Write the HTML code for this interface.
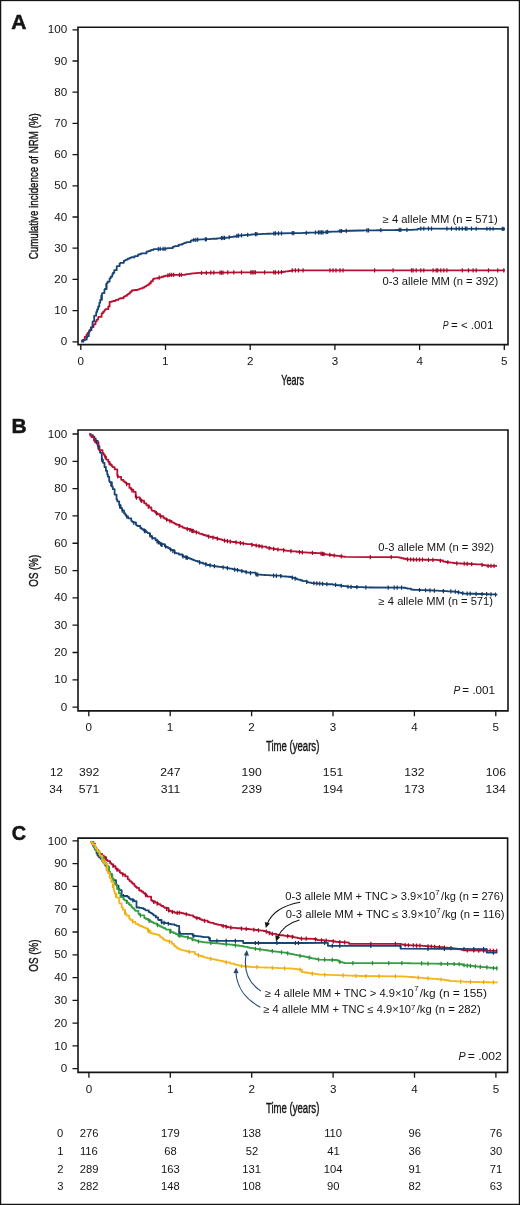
<!DOCTYPE html><html><head><meta charset="utf-8"><style>html,body{margin:0;padding:0;background:#fff;}svg{display:block;will-change:transform;}text{font-family:"Liberation Sans", sans-serif;}</style></head><body>
<svg width="520" height="1205" viewBox="0 0 520 1205">
<rect x="0" y="0" width="520" height="1205" fill="#fff"/>
<rect x="0.6" y="0.5" width="518.8" height="1203.9" fill="none" stroke="#141414" stroke-width="1.3"/>
<text x="11.28" y="28.80" font-size="21" font-weight="bold" fill="#141414" stroke="#141414" stroke-width="0.5" paint-order="stroke" textLength="15.17" lengthAdjust="spacingAndGlyphs">A</text>
<path d="M78,27.2H508V344.6H78Z" fill="none" stroke="#141414" stroke-width="1.6"/>
<text x="60.68" y="345.40" font-size="10.3" fill="#141414" textLength="6.47" lengthAdjust="spacingAndGlyphs">0</text>
<text x="54.22" y="314.20" font-size="10.3" fill="#141414" textLength="12.95" lengthAdjust="spacingAndGlyphs">10</text>
<text x="54.22" y="283.00" font-size="10.3" fill="#141414" textLength="12.95" lengthAdjust="spacingAndGlyphs">20</text>
<text x="54.22" y="251.80" font-size="10.3" fill="#141414" textLength="12.95" lengthAdjust="spacingAndGlyphs">30</text>
<text x="54.22" y="220.60" font-size="10.3" fill="#141414" textLength="12.95" lengthAdjust="spacingAndGlyphs">40</text>
<text x="54.22" y="189.40" font-size="10.3" fill="#141414" textLength="12.95" lengthAdjust="spacingAndGlyphs">50</text>
<text x="54.22" y="158.20" font-size="10.3" fill="#141414" textLength="12.95" lengthAdjust="spacingAndGlyphs">60</text>
<text x="54.22" y="127.00" font-size="10.3" fill="#141414" textLength="12.95" lengthAdjust="spacingAndGlyphs">70</text>
<text x="54.22" y="95.80" font-size="10.3" fill="#141414" textLength="12.95" lengthAdjust="spacingAndGlyphs">80</text>
<text x="54.22" y="64.60" font-size="10.3" fill="#141414" textLength="12.95" lengthAdjust="spacingAndGlyphs">90</text>
<text x="47.73" y="33.40" font-size="10.3" fill="#141414" textLength="19.42" lengthAdjust="spacingAndGlyphs">100</text>
<path d="M72.50,341.80H78M72.50,310.60H78M72.50,279.40H78M72.50,248.20H78M72.50,217.00H78M72.50,185.80H78M72.50,154.60H78M72.50,123.40H78M72.50,92.20H78M72.50,61.00H78M72.50,29.80H78" stroke="#141414" stroke-width="1.3"/>
<text x="77.56" y="364.80" font-size="10.3" fill="#141414" textLength="6.47" lengthAdjust="spacingAndGlyphs">0</text>
<text x="162.11" y="364.80" font-size="10.3" fill="#141414" textLength="6.47" lengthAdjust="spacingAndGlyphs">1</text>
<text x="246.97" y="364.80" font-size="10.3" fill="#141414" textLength="6.47" lengthAdjust="spacingAndGlyphs">2</text>
<text x="331.70" y="364.80" font-size="10.3" fill="#141414" textLength="6.47" lengthAdjust="spacingAndGlyphs">3</text>
<text x="416.40" y="364.80" font-size="10.3" fill="#141414" textLength="6.47" lengthAdjust="spacingAndGlyphs">4</text>
<text x="501.07" y="364.80" font-size="10.3" fill="#141414" textLength="6.47" lengthAdjust="spacingAndGlyphs">5</text>
<path d="M80.80,344.6V349.90M165.50,344.6V349.90M250.20,344.6V349.90M334.90,344.6V349.90M419.60,344.6V349.90M504.30,344.6V349.90" stroke="#141414" stroke-width="1.3"/>
<text transform="translate(38.30,259.29) rotate(-90)" x="0" y="0" font-size="13.5" fill="#141414" stroke="#141414" stroke-width="0.4" paint-order="stroke" textLength="146.07" lengthAdjust="spacingAndGlyphs">Cumulative incidence of NRM (%)</text>
<text x="281.30" y="385.00" font-size="14.2" fill="#141414" stroke="#141414" stroke-width="0.4" paint-order="stroke" textLength="22.83" lengthAdjust="spacingAndGlyphs">Years</text>
<path d="M81.40,341.50H81.90V340.79H82.47V339.98H84.70V336.80H86.46V334.59H87.40V333.40H87.70V332.97H88.90V331.21H89.60V330.18H91.50V327.40H91.65V327.17H91.73V327.05H93.53V324.30H95.50V321.30H96.67V319.57H98.20V317.30H98.44V317.02H98.51V316.94H101.60V313.30H103.00V311.86H104.33V310.49H104.90V309.90H105.32V309.48H105.66V309.14H108.30V306.50H109.60V301.80H111.73V301.36H112.82V301.14H113.00V301.10H113.25V301.01H115.14V300.31H116.12V299.95H118.27V299.15H118.40V299.10H119.11V298.78H119.27V298.71H120.14V298.32H120.25V298.27H123.55V296.78H124.40V296.40H125.14V295.91H126.78V294.83H127.75V294.20H128.50V293.70H129.73V292.47H130.61V291.59H131.80V290.40H132.12V290.36H132.14V290.36H132.91V290.26H134.76V290.02H137.20V289.70H138.90V289.07H139.51V288.84H140.36V288.53H140.87V288.34H142.60V287.70H144.22V286.80H145.05V286.34H146.37V285.60H146.89V285.32H148.00V284.70H149.34V283.24H150.89V281.55H151.16V281.25H152.81V279.45H153.50V278.70H154.17V278.58H155.14V278.41H157.66V277.97H159.09V277.72H159.20V277.70H160.08V277.41H161.63V276.91H162.04V276.77H163.59V276.26H165.00V275.80H165.23V275.76H168.32V275.23H168.88V275.13H169.43V275.04H170.80V274.80L182.30,274.80H185.31V274.39H186.68V274.21H187.87V274.05H188.01V274.03H188.97V273.90H190.36V273.71H190.70V273.66H191.37V273.57H191.90V273.50H192.25V273.46H194.65V273.22H195.75V273.10H195.97V273.08H197.70V272.90L240.00,272.30L280.00,272.30H280.28V272.26H280.73V272.19H281.44V272.08H282.07V271.98H283.50V271.76H284.75V271.57H285.68V271.42H287.96V271.07H288.22V271.03H290.11V270.74H292.22V270.41H292.30V270.40L505.00,270.40" fill="none" stroke="#ba1033" stroke-width="1.8" stroke-linejoin="round" stroke-linecap="butt"/>
<path d="M81.40,341.50H83.47V340.27H84.10V339.90H84.44V339.59H86.70V337.50H87.22V336.16H88.80V332.10H89.58V330.26H90.80V327.40H92.54V322.08H92.80V321.30H94.20V316.00H94.36V315.67H96.20V311.90H97.10V309.47H98.20V306.50H99.30V302.82H100.20V299.80H101.97V293.88H102.20V293.10H104.41V289.74H104.90V289.00H106.63V283.82H106.90V283.00H107.65V281.69H109.60V278.30H110.72V276.60H112.30V274.20H113.02V272.76H114.30V270.20H116.69V266.66H117.00V266.20H119.59V263.61H119.70V263.50H120.32V263.09H120.42V263.02H120.65V262.87H123.80V260.80H124.73V260.31H125.74V259.78H126.16V259.56H127.80V258.70H127.83V258.69H129.56V258.02H130.27V257.74H130.61V257.61H131.59V257.23H134.50V256.10H138.01V254.71H138.70V254.43H139.10V254.27H139.20V254.24H140.98V253.53H141.30V253.40H141.66V253.29H146.53V251.76H146.65V251.72H147.16V251.56H147.33V251.51H148.00V251.30H148.57V251.08H150.16V250.48H150.19V250.46H151.49V249.97H153.50V249.20L165.00,248.80H165.40V248.70H165.48V248.68H165.52V248.67H166.25V248.49H166.61V248.40H167.62V248.15H172.70V246.90H172.70V246.90H173.29V246.71H173.58V246.61H174.81V246.21H178.50V245.00H178.65V244.95H179.35V244.72H182.00V243.83H183.48V243.34H184.20V243.10H185.15V242.74H186.14V242.37H186.87V242.09H187.00V242.04H190.74V240.64H191.85V240.22H191.90V240.20L197.70,239.60L207.30,239.20H207.57V239.18H208.29V239.12H208.48V239.11H209.16V239.05H210.34V238.96H211.24V238.89H212.66V238.78H212.86V238.76H216.83V238.45H218.24V238.34H218.80V238.30H219.01V238.28H219.93V238.21H222.87V237.98H222.87V237.98H222.98V237.97H226.33V237.71H226.50V237.70H228.76V237.32H229.51V237.19H230.03V237.10H230.95V236.94H231.45V236.86H233.69V236.48H235.90V236.10H236.92V235.92H237.02V235.91H237.46V235.83H238.15V235.71H239.80V235.43H240.00V235.40H240.43V235.37H240.45V235.37H243.49V235.13H243.99V235.09H244.30V235.06H245.48V234.97H246.89V234.86H247.97V234.78H250.66V234.57H251.39V234.51H252.41V234.43H252.60V234.42H253.13V234.38H254.73V234.25H255.40V234.20H256.96V234.14H259.02V234.06H259.16V234.06H259.46V234.05H259.57V234.04H262.11V233.94H264.22V233.86H266.88V233.76H267.41V233.74H267.55V233.74H270.11V233.64H270.86V233.61H271.97V233.57H272.14V233.56H272.64V233.54H272.97V233.53H273.58V233.51H273.80V233.50L292.30,233.20H292.74V233.19H296.20V233.09H296.32V233.08H296.79V233.07H296.94V233.06H297.52V233.05H297.78V233.04H302.51V232.90H303.06V232.88H304.45V232.84H304.62V232.84H306.98V232.77H308.47V232.73H309.14V232.71H312.25V232.62H312.48V232.61H314.55V232.55H315.33V232.52H316.32V232.50H316.53V232.49H316.89V232.48H317.06V232.47H317.67V232.46H320.08V232.39H320.96V232.36H321.37V232.35H322.11V232.33H322.13V232.33H322.40V232.32H323.00V232.30H325.42V232.13H326.90V232.03H327.45V231.99H327.66V231.97H327.80V231.96H328.42V231.92H329.55V231.84H330.75V231.76H330.78V231.75H331.03V231.74H331.48V231.70H333.79V231.54H333.85V231.54H338.28V231.23H339.13V231.17H339.73V231.12H339.84V231.12H341.50V231.00L360.00,230.50H360.20V230.50H360.96V230.49H363.74V230.45H363.77V230.45H365.46V230.43H366.26V230.41H367.06V230.40H368.88V230.38H369.43V230.37H372.39V230.33H372.80V230.33H373.37V230.32H374.26V230.31H376.79V230.27H382.67V230.19H382.77V230.19H382.83V230.19H383.30V230.18H384.38V230.17H384.62V230.17H385.83V230.15H386.04V230.15H386.15V230.14H386.38V230.14H386.69V230.14H386.96V230.13H387.39V230.13H387.46V230.13H388.61V230.11H388.66V230.11H388.81V230.11H388.86V230.11H388.93V230.11H391.55V230.07H394.48V230.03H395.68V230.02H396.01V230.01H397.35V229.99H399.14V229.97H399.77V229.96H400.37V229.95H400.39V229.95H401.16V229.94H403.26V229.91H405.14V229.89H406.99V229.86H407.26V229.86H408.49V229.84H408.52V229.84H408.58V229.84H411.50V229.80H412.83V229.63H412.94V229.61H413.54V229.54H417.64V229.01H418.16V228.94H419.71V228.74H419.84V228.72H420.50V228.64H420.80V228.60L505.00,228.80" fill="none" stroke="#184577" stroke-width="1.8" stroke-linejoin="round" stroke-linecap="butt"/>
<path d="M159.20,275.60V279.80M167.90,273.20V277.40M169.80,272.87V277.07M171.70,272.70V276.90M173.70,272.70V276.90M179.40,272.70V276.90M181.30,272.70V276.90M201.50,270.75V274.95M206.30,270.68V274.88M210.80,270.61V274.81M213.80,270.57V274.77M220.00,270.48V274.68M221.50,270.46V274.66M223.00,270.44V274.64M227.70,270.37V274.57M233.80,270.29V274.49M241.50,270.20V274.40M250.80,270.20V274.40M252.30,270.20V274.40M253.80,270.20V274.40M255.40,270.20V274.40M264.60,270.20V274.40M273.80,270.20V274.40M275.40,270.20V274.40M278.50,270.20V274.40M281.50,269.97V274.17M292.30,268.30V272.50M295.40,268.30V272.50M298.50,268.30V272.50M303.10,268.30V272.50M330.00,268.30V272.50M333.00,268.30V272.50M336.00,268.30V272.50M340.00,268.30V272.50M343.00,268.30V272.50M374.60,268.30V272.50M393.10,268.30V272.50M411.50,268.30V272.50M413.10,268.30V272.50M416.20,268.30V272.50M420.80,268.30V272.50M423.80,268.30V272.50M433.10,268.30V272.50M436.20,268.30V272.50M437.70,268.30V272.50M440.80,268.30V272.50M443.80,268.30V272.50M446.90,268.30V272.50M462.30,268.30V272.50M468.50,268.30V272.50M473.10,268.30V272.50M476.20,268.30V272.50M488.50,268.30V272.50M497.70,268.30V272.50M503.80,268.30V272.50" stroke="#9c0c2a" stroke-width="1.2" fill="none"/>
<path d="M101.00,295.02V299.22M106.00,283.60V287.80M158.30,246.93V251.13M160.20,246.87V251.07M163.10,246.77V250.97M165.00,246.70V250.90M193.80,237.90V242.10M195.80,237.70V241.90M197.70,237.50V241.70M205.40,237.18V241.38M206.30,237.14V241.34M221.50,235.99V240.19M223.00,235.87V240.07M224.60,235.75V239.95M229.20,235.14V239.34M236.90,233.83V238.03M238.50,233.56V237.76M241.50,233.18V237.38M247.70,232.70V236.90M255.40,232.10V236.30M256.90,232.04V236.24M273.80,231.40V235.60M275.40,231.37V235.57M278.50,231.32V235.52M281.50,231.28V235.48M292.30,231.10V235.30M293.80,231.06V235.26M306.20,230.69V234.89M315.40,230.42V234.62M318.50,230.33V234.53M320.00,230.29V234.49M321.50,230.24V234.44M323.00,230.20V234.40M326.20,229.98V234.18M327.70,229.87V234.07M340.00,229.01V233.21M341.50,228.90V233.10M346.20,228.77V232.97M366.90,228.31V232.51M368.50,228.28V232.48M380.80,228.12V232.32M399.20,227.87V232.07M400.80,227.85V232.05M406.90,227.76V231.96M420.80,226.50V230.70M423.80,226.51V230.71M428.50,226.52V230.72M431.50,226.53V230.73M446.90,226.56V230.76M451.50,226.57V230.77M456.20,226.58V230.78M459.20,226.59V230.79M462.30,226.60V230.80M465.40,226.61V230.81M466.90,226.61V230.81M471.50,226.62V230.82M476.20,226.63V230.83M486.90,226.66V230.86M490.00,226.66V230.86M493.10,226.67V230.87M502.30,226.69V230.89M503.80,226.70V230.90" stroke="#123866" stroke-width="1.2" fill="none"/>
<text x="382.74" y="222.60" font-size="10.6" fill="#141414" textLength="114.94" lengthAdjust="spacingAndGlyphs">≥ 4 allele MM (n = 571)</text>
<text x="382.55" y="285.00" font-size="10.6" fill="#141414" textLength="115.63" lengthAdjust="spacingAndGlyphs">0-3 allele MM (n = 392)</text>
<text x="442.84" y="328.80" font-size="11.2" font-style="italic" fill="#141414" textLength="5.82" lengthAdjust="spacingAndGlyphs">P</text>
<text x="450.95" y="328.80" font-size="11.2" fill="#141414" textLength="42.40" lengthAdjust="spacingAndGlyphs">= &lt; .001</text>
<text x="11.58" y="432.80" font-size="21" font-weight="bold" fill="#141414" stroke="#141414" stroke-width="0.5" paint-order="stroke" textLength="15.17" lengthAdjust="spacingAndGlyphs">B</text>
<path d="M78,430H508V710.9H78Z" fill="none" stroke="#141414" stroke-width="1.6"/>
<text x="60.68" y="710.70" font-size="10.3" fill="#141414" textLength="6.47" lengthAdjust="spacingAndGlyphs">0</text>
<text x="54.22" y="683.39" font-size="10.3" fill="#141414" textLength="12.95" lengthAdjust="spacingAndGlyphs">10</text>
<text x="54.22" y="656.08" font-size="10.3" fill="#141414" textLength="12.95" lengthAdjust="spacingAndGlyphs">20</text>
<text x="54.22" y="628.77" font-size="10.3" fill="#141414" textLength="12.95" lengthAdjust="spacingAndGlyphs">30</text>
<text x="54.22" y="601.46" font-size="10.3" fill="#141414" textLength="12.95" lengthAdjust="spacingAndGlyphs">40</text>
<text x="54.22" y="574.15" font-size="10.3" fill="#141414" textLength="12.95" lengthAdjust="spacingAndGlyphs">50</text>
<text x="54.22" y="546.84" font-size="10.3" fill="#141414" textLength="12.95" lengthAdjust="spacingAndGlyphs">60</text>
<text x="54.22" y="519.53" font-size="10.3" fill="#141414" textLength="12.95" lengthAdjust="spacingAndGlyphs">70</text>
<text x="54.22" y="492.22" font-size="10.3" fill="#141414" textLength="12.95" lengthAdjust="spacingAndGlyphs">80</text>
<text x="54.22" y="464.91" font-size="10.3" fill="#141414" textLength="12.95" lengthAdjust="spacingAndGlyphs">90</text>
<text x="47.73" y="437.60" font-size="10.3" fill="#141414" textLength="19.42" lengthAdjust="spacingAndGlyphs">100</text>
<path d="M72.50,707.10H78M72.50,679.79H78M72.50,652.48H78M72.50,625.17H78M72.50,597.86H78M72.50,570.55H78M72.50,543.24H78M72.50,515.93H78M72.50,488.62H78M72.50,461.31H78M72.50,434.00H78" stroke="#141414" stroke-width="1.3"/>
<text x="85.56" y="730.80" font-size="10.3" fill="#141414" textLength="6.47" lengthAdjust="spacingAndGlyphs">0</text>
<text x="166.81" y="730.80" font-size="10.3" fill="#141414" textLength="6.47" lengthAdjust="spacingAndGlyphs">1</text>
<text x="248.37" y="730.80" font-size="10.3" fill="#141414" textLength="6.47" lengthAdjust="spacingAndGlyphs">2</text>
<text x="329.80" y="730.80" font-size="10.3" fill="#141414" textLength="6.47" lengthAdjust="spacingAndGlyphs">3</text>
<text x="411.20" y="730.80" font-size="10.3" fill="#141414" textLength="6.47" lengthAdjust="spacingAndGlyphs">4</text>
<text x="492.57" y="730.80" font-size="10.3" fill="#141414" textLength="6.47" lengthAdjust="spacingAndGlyphs">5</text>
<path d="M88.80,710.9V716.20M170.20,710.9V716.20M251.60,710.9V716.20M333.00,710.9V716.20M414.40,710.9V716.20M495.80,710.9V716.20" stroke="#141414" stroke-width="1.3"/>
<text transform="translate(38.30,586.66) rotate(-90)" x="0" y="0" font-size="13.5" fill="#141414" stroke="#141414" stroke-width="0.4" paint-order="stroke" textLength="31.85" lengthAdjust="spacingAndGlyphs">OS (%)</text>
<text x="265.88" y="751.20" font-size="14" fill="#141414" stroke="#141414" stroke-width="0.4" paint-order="stroke" textLength="53.49" lengthAdjust="spacingAndGlyphs">Time (years)</text>
<path d="M89.20,434.20H90.75V435.20H92.91V436.58H93.10V436.70H94.42V438.70H95.80V440.80H97.78V446.15H97.80V446.20H99.46V450.61H99.80V451.50H100.12V452.81H101.80V459.60H102.97V462.79H104.50V467.00H105.89V470.82H107.20V474.40H107.88V476.67H109.20V481.10H109.73V482.16H111.90V486.50H112.76V489.08H114.60V494.60H116.55V499.44H117.30V501.30H117.37V501.43H119.18V505.07H120.70V508.10H120.76V508.20H122.15V510.43H124.00V513.40H125.36V514.99H126.10V515.86H126.56V516.39H128.10V518.20H128.36V518.41H131.25V520.80H132.04V521.45H132.10V521.50H132.52V521.86H133.16V522.40H135.99V524.80H136.10V524.90H136.31V525.06H136.80V525.42H137.56V525.98H140.31V528.02H141.50V528.90H142.90V529.78H143.78V530.34H145.92V531.68H146.42V532.00H146.90V532.30H147.71V533.11H149.98V535.38H150.68V536.08H151.86V537.26H152.30V537.70H152.74V538.05H152.86V538.14H152.99V538.24H155.57V540.27H157.60V541.86H159.53V543.38H160.00V543.75H160.50V544.00H160.63V544.06H164.76V546.13H166.01V546.76H166.42V546.96H166.47V546.99H167.50V547.50H168.47V548.15H169.51V548.84H170.04V549.20H170.90V549.77H171.65V550.27H174.45V552.13H175.00V552.50H175.38V552.69H175.82V552.91H176.21V553.11H176.51V553.26H176.79V553.39H178.95V554.48H182.50V556.25H183.83V556.69H184.67V556.97H184.79V557.01H184.84V557.03H186.25V557.50H188.20V558.15H190.00V558.75H190.15V558.81H190.18V558.82H191.89V559.46H192.50V559.69H193.47V560.05H194.75V560.53H195.51V560.82H197.33V561.50H199.35V562.25H200.00V562.50H200.80V562.77H202.95V563.48H203.24V563.58H203.71V563.74H206.14V564.55H206.26V564.59H207.50V565.00H210.07V565.43H211.30V565.63H212.66V565.86H212.80V565.88H213.74V566.04H214.87V566.23H215.00V566.25H215.57V566.33H215.74V566.35H216.35V566.44H216.70V566.49H217.66V566.62H218.61V566.75H219.21V566.84H221.61V567.17H222.71V567.32H225.40V567.70H226.70V567.96H227.83V568.19H229.13V568.45H229.45V568.52H229.74V568.57H229.91V568.61H232.27V569.08H232.48V569.12H233.82V569.40H235.73V569.78H238.36V570.31H238.81V570.40H240.21V570.68H240.38V570.72H240.80V570.80H240.82V570.80H240.88V570.82H242.18V571.13H243.90V571.54H244.56V571.70H244.87V571.78H245.57V571.95H246.29V572.12H246.68V572.21H246.95V572.28H248.11V572.56H248.54V572.66H248.57V572.67H255.67V574.37H256.20V574.50H256.54V574.52H256.84V574.54H258.49V574.63H259.76V574.71H260.85V574.77H261.19V574.79H262.16V574.85H264.30V574.98H265.16V575.03H266.26V575.09H267.15V575.14H267.68V575.18H269.65V575.29H271.27V575.39H271.50V575.40H272.31V575.47H274.08V575.61H280.83V576.16H281.19V576.19H282.31V576.28H283.11V576.34H283.40V576.36H284.13V576.42H284.90V576.49H285.08V576.50H286.39V576.61H286.53V576.62H286.79V576.64H286.95V576.65H286.95V576.65H288.00V576.74H288.02V576.74H290.00V576.90H290.38V577.02H291.29V577.32H291.64V577.43H292.83V577.82H294.44V578.34H296.87V579.13H297.70V579.40H297.72V579.41H298.37V579.62H298.53V579.67H300.28V580.24H302.30V580.90H302.33V580.91H302.91V581.05H306.80V581.98H306.93V582.01H307.22V582.08H308.37V582.35H309.18V582.55H309.64V582.65H311.50V583.10H313.11V583.21H313.17V583.22H314.68V583.32H315.93V583.41H316.95V583.48H316.99V583.48H317.24V583.50H318.08V583.56H319.76V583.67H321.85V583.82H322.17V583.84H324.83V584.03H325.38V584.06H326.27V584.13H327.25V584.19H327.41V584.21H327.48V584.21H327.55V584.21H328.07V584.25H332.58V584.56H333.10V584.60H333.29V584.63H334.03V584.73H334.92V584.86H336.17V585.04H337.24V585.19H337.58V585.24H340.26V585.62H340.28V585.63H341.05V585.74H341.84V585.85H343.45V586.08H343.51V586.09H343.76V586.12H346.86V586.57H348.50V586.80H348.88V586.81H351.35V586.89H351.55V586.90H353.01V586.95H353.03V586.95H354.28V586.99H358.16V587.11H358.37V587.12H359.44V587.16H359.77V587.17H361.00V587.21H363.62V587.29H366.13V587.37H366.13V587.37H367.57V587.42H368.63V587.46H368.83V587.46H368.98V587.47H369.31V587.48H369.53V587.48H370.00V587.50L403.30,587.70H403.33V587.71H403.51V587.75H405.29V588.16H407.18V588.60H407.48V588.67H407.53V588.68H411.02V589.50H411.90V589.70H411.94V589.70H413.01V589.74H414.25V589.79H414.67V589.81H415.15V589.83H418.26V589.95H418.60V589.96H418.88V589.97H419.20V589.98H419.85V590.01H420.23V590.02H420.50V590.03H420.98V590.05H421.79V590.09H425.51V590.23H428.37V590.34H429.24V590.38H431.28V590.46H431.31V590.46H432.73V590.51H433.30V590.53H434.97V590.60H435.00V590.60H436.00V590.65H438.83V590.81H440.04V590.87H440.37V590.89H440.77V590.91H442.54V591.01H444.11V591.10H445.32V591.16H446.09V591.20H447.74V591.29H449.54V591.39H449.79V591.41H451.40V591.49H451.86V591.52H452.86V591.57H453.45V591.60H453.90V591.63H454.00V591.63H454.31V591.65H455.20V591.70H455.62V591.79H456.29V591.93H457.66V592.22H459.26V592.55H460.74V592.86H461.67V593.05H463.17V593.37H463.80V593.50L481.10,594.00H483.67V594.10H483.76V594.10H484.41V594.12H485.24V594.16H485.83V594.18H485.88V594.18H486.56V594.21H487.37V594.24H489.00V594.30H489.96V594.33H491.53V594.39H492.85V594.44H495.50V594.54H496.62V594.59H497.00V594.60" fill="none" stroke="#184577" stroke-width="1.8" stroke-linejoin="round" stroke-linecap="butt"/>
<path d="M89.20,434.20H90.34V435.65H91.54V437.17H93.91V440.18H94.38V440.78H94.40V440.80H94.77V441.53H94.97V441.92H95.19V442.34H98.50V448.80H98.86V449.17H99.46V449.78H99.87V450.20H102.50V452.90H103.53V454.63H104.78V456.72H106.05V458.84H106.50V459.60H108.19V461.83H108.20V461.83H109.57V463.65H110.60V465.00H111.95V466.35H112.11V466.51H112.70V467.10H114.60V469.00H114.77V469.42H117.30V475.80H117.80V476.30H118.41V476.91H121.17V479.67H121.30V479.80H123.36V481.16H123.88V481.50H124.84V482.13H125.40V482.50H126.26V483.67H126.39V483.84H126.48V483.96H129.40V487.90H131.04V489.50H131.23V489.68H133.31V491.72H133.50V491.90H135.71V496.48H136.10V497.30H136.22V497.37H136.27V497.41H139.93V499.71H140.81V500.27H141.50V500.70H141.50V500.70H144.06V502.92H144.67V503.46H146.34V504.91H146.90V505.40H149.01V507.51H151.36V509.86H151.52V510.02H151.90V510.40H152.30V510.80H154.93V512.06H155.00V512.10H155.55V512.55H155.77V512.74H156.24V513.13H157.61V514.27H160.00V516.25H163.43V517.96H164.86V518.68H165.12V518.81H165.41V518.96H165.74V519.12H167.06V519.78H167.50V520.00H167.80V520.15H169.24V520.87H171.64V522.07H172.34V522.42H173.37V522.93H174.40V523.45H175.00V523.75H175.84V524.17H175.96V524.23H176.89V524.69H177.28V524.89H179.77V526.14H180.24V526.37H182.50V527.50H183.03V527.68H184.18V528.06H185.41V528.47H186.43V528.81H186.87V528.96H187.01V529.00H190.00V530.00H190.10V530.04H192.35V530.88H192.47V530.93H193.02V531.13H194.61V531.73H194.75V531.78H196.45V532.42H198.84V533.31H199.59V533.60H200.00V533.75H200.16V533.80H202.31V534.52H203.74V535.00H205.06V535.44H205.28V535.51H207.20V536.15H207.50V536.25H207.76V536.31H209.20V536.65H209.43V536.70H210.65V536.99H212.51V537.42H214.44V537.87H215.00V538.00H217.06V538.57H217.13V538.60H218.52V538.98H219.37V539.22H220.25V539.46H222.10V539.98H222.69V540.14H223.29V540.31H225.09V540.81H225.40V540.90H227.65V541.22H228.28V541.31H228.81V541.39H228.84V541.39H228.95V541.41H229.94V541.55H230.20V541.59H231.82V541.82H233.03V541.99H235.65V542.36H237.11V542.57H238.03V542.70H240.01V542.99H240.06V542.99H240.80V543.10H241.60V543.22H241.73V543.24H242.99V543.44H243.66V543.55H244.08V543.61H245.87V543.89H246.86V544.04H246.86V544.04H252.08V544.86H254.41V545.22H254.63V545.26H255.15V545.34H255.80V545.44H256.16V545.49H256.20V545.50H256.24V545.51H256.69V545.60H258.09V545.88H258.79V546.02H260.48V546.37H261.27V546.53H261.58V546.59H261.92V546.66H261.99V546.67H266.37V547.56H267.62V547.81H270.52V548.40H270.82V548.46H270.95V548.49H271.50V548.60H271.97V548.67H272.26V548.71H274.47V549.02H274.69V549.06H276.99V549.38H277.11V549.40H277.24V549.42H277.83V549.50H278.16V549.55H278.79V549.64H284.15V550.41H284.16V550.41H285.31V550.57H285.66V550.62H286.90V550.80H287.44V550.85H287.53V550.86H287.86V550.89H290.86V551.19H290.94V551.19H291.09V551.21H292.12V551.31H296.40V551.73H298.41V551.92H298.71V551.95H299.40V552.02H300.74V552.15H301.07V552.18H301.65V552.24H302.30V552.30H302.36V552.30H302.67V552.32H305.90V552.51H306.54V552.55H307.17V552.58H308.25V552.65H309.62V552.73H312.06V552.87H313.34V552.94H313.94V552.98H316.41V553.12H316.83V553.15H316.99V553.16H317.03V553.16H317.70V553.20H320.52V553.60H321.57V553.75H322.62V553.90H322.75V553.92H323.27V554.00H324.32V554.15H325.30V554.29H327.05V554.54H329.07V554.82H329.60V554.90H329.75V554.92H330.06V554.97H330.37V555.01H331.99V555.24H333.10V555.40H333.52V555.45H333.90V555.50H334.07V555.52H335.53V555.70H336.14V555.77H337.11V555.89H339.90V556.23H342.36V556.53H343.97V556.73H345.16V556.87H345.25V556.88H345.40V556.90L370.00,557.10L397.50,557.10H398.23V557.29H398.34V557.32H399.54V557.64H399.80V557.71H401.39V558.13H401.84V558.25H403.68V558.73H406.20V559.40H409.44V559.46H410.04V559.47H411.06V559.49H412.51V559.52H413.53V559.54H413.98V559.55H414.04V559.55H415.51V559.58H416.54V559.60H418.02V559.62H418.76V559.64H419.41V559.65H421.25V559.68H422.28V559.70H424.17V559.74H424.53V559.75H425.86V559.77H426.91V559.79H427.26V559.80H427.57V559.80H429.60V559.84H429.91V559.85H431.83V559.89H432.17V559.89H432.85V559.90H432.86V559.90H433.05V559.91H434.23V559.93H437.61V559.99H437.66V560.00H437.90V560.00H438.13V560.07H438.58V560.20H439.57V560.50H443.11V561.55H443.60V561.70H445.80V561.98H446.62V562.09H447.92V562.26H448.81V562.37H450.37V562.57H452.62V562.87H453.65V563.00H454.39V563.10H454.57V563.12H454.89V563.16H455.20V563.20H455.49V563.22H456.84V563.29H457.83V563.34H457.94V563.35H458.86V563.40H460.00V563.46H460.47V563.48H460.47V563.48H460.48V563.49H460.84V563.50H461.80V563.56H463.29V563.64H463.68V563.66H464.75V563.72H465.44V563.75H469.39V563.97H469.45V563.97H470.64V564.03H470.73V564.04H471.26V564.07H471.75V564.09H472.08V564.11H472.77V564.15H475.80V564.31H481.10V564.60H481.63V564.71H482.05V564.80H483.48V565.09H485.13V565.43H486.90V565.80L497.00,565.80" fill="none" stroke="#ba1033" stroke-width="1.8" stroke-linejoin="round" stroke-linecap="butt"/>
<path d="M96.38,440.27V444.47M98.26,445.31V449.51M101.72,457.19V461.39M101.88,457.72V461.92M110.81,482.23V486.43M119.60,503.81V508.01M119.99,504.57V508.77M122.23,508.46V512.66M126.63,514.38V518.58M133.85,520.88V525.08M144.38,528.61V532.81M144.64,528.78V532.98M145.02,529.01V533.21M149.93,533.23V537.43M152.14,535.44V539.64M157.07,539.34V543.54M158.41,540.40V544.60M160.70,542.00V546.20M161.66,542.48V546.68M162.10,542.70V546.90M165.50,544.40V548.60M170.48,547.38V551.58M172.83,548.95V553.15M174.61,550.14V554.34M182.83,554.26V558.46M182.93,554.29V558.49M185.88,555.28V559.48M186.14,555.36V559.56M187.28,555.74V559.94M199.54,560.23V564.43M205.80,562.33V566.53M210.10,563.33V567.53M214.40,564.05V568.25M223.10,565.28V569.48M227.40,566.00V570.20M234.60,567.45V571.65M237.50,568.04V572.24M241.80,568.94V573.14M246.10,569.97V574.17M250.50,571.03V575.23M256.20,572.40V576.60M257.70,572.49V576.69M273.60,573.47V577.67M276.40,573.70V577.90M280.80,574.05V578.25M292.30,575.55V579.75M295.20,576.49V580.69M306.70,579.85V584.05M313.90,581.17V585.37M316.80,581.37V585.57M319.70,581.57V585.77M322.60,581.77V585.97M326.90,582.07V586.27M335.60,582.86V587.06M341.30,583.67V587.87M348.00,584.63V588.83M351.00,584.78V588.98M356.90,584.97V589.17M365.90,585.27V589.47M388.20,585.51V589.71M394.20,585.55V589.75M397.20,585.56V589.76M401.60,585.59V589.79M419.50,587.90V592.10M425.50,588.13V592.33M430.00,588.31V592.51M434.40,588.48V592.68M443.40,588.96V593.16M450.80,589.36V593.56M455.30,589.62V593.82M458.30,590.25V594.45M462.70,591.17V595.37M467.20,591.50V595.70M470.20,591.58V595.78M476.10,591.76V595.96M482.10,591.94V596.14M486.60,592.11V596.31M491.00,592.27V596.47M495.50,592.44V596.64" stroke="#123866" stroke-width="1.2" fill="none"/>
<path d="M105.23,455.38V459.58M109.28,461.16V465.36M117.78,474.18V478.38M126.61,482.03V486.23M131.85,488.19V492.39M135.52,493.99V498.19M136.47,495.43V499.63M140.80,498.16V502.36M141.69,498.76V502.96M148.26,504.66V508.86M156.35,511.12V515.32M156.43,511.19V515.39M160.80,514.55V518.75M166.61,517.45V521.65M169.98,519.14V523.34M179.10,523.70V527.90M187.28,526.99V531.19M189.94,527.88V532.08M191.72,528.54V532.74M192.54,528.85V533.05M193.24,529.11V533.31M196.38,530.29V534.49M208.70,534.43V538.63M213.00,535.43V539.63M217.30,536.54V540.74M224.50,538.55V542.75M227.40,539.09V543.29M230.30,539.50V543.70M236.10,540.33V544.53M240.40,540.94V545.14M243.30,541.39V545.59M251.90,542.73V546.93M256.20,543.40V547.60M259.10,543.99V548.19M262.00,544.58V548.78M269.20,546.03V550.23M273.60,546.80V551.00M277.90,547.41V551.61M283.60,548.23V552.43M290.90,549.09V553.29M299.50,549.93V554.13M302.40,550.21V554.41M312.50,550.80V555.00M321.10,551.59V555.79M322.60,551.80V556.00M324.00,552.00V556.20M329.80,552.83V557.03M334.10,553.42V557.62M341.30,554.30V558.50M370.30,555.00V559.20M391.20,555.00V559.20M407.60,557.33V561.53M410.60,557.38V561.58M413.60,557.44V561.64M416.50,557.49V561.69M419.50,557.55V561.75M422.50,557.61V561.81M428.50,557.72V561.92M432.90,557.81V562.01M440.40,558.65V562.85M447.80,560.14V564.34M456.80,561.19V565.39M464.20,561.59V565.79M467.20,561.75V565.95M471.70,561.99V566.19M482.10,562.71V566.91M488.10,563.70V567.90M491.00,563.70V567.90M494.00,563.70V567.90" stroke="#9c0c2a" stroke-width="1.2" fill="none"/>
<text x="378.15" y="551.20" font-size="10.6" fill="#141414" textLength="115.83" lengthAdjust="spacingAndGlyphs">0-3 allele MM (n = 392)</text>
<text x="378.64" y="605.40" font-size="10.6" fill="#141414" textLength="114.34" lengthAdjust="spacingAndGlyphs">≥ 4 allele MM (n = 571)</text>
<text x="453.39" y="693.80" font-size="10.6" font-style="italic" fill="#141414" textLength="6.88" lengthAdjust="spacingAndGlyphs">P</text>
<text x="462.35" y="693.80" font-size="10.6" fill="#141414" textLength="32.71" lengthAdjust="spacingAndGlyphs">= .001</text>
<text x="49.92" y="775.50" font-size="10.5" fill="#141414" textLength="12.99" lengthAdjust="spacingAndGlyphs">12</text>
<text x="49.36" y="792.80" font-size="10.5" fill="#141414" textLength="13.09" lengthAdjust="spacingAndGlyphs">34</text>
<text x="78.92" y="775.50" font-size="10.5" fill="#141414" textLength="20.32" lengthAdjust="spacingAndGlyphs">392</text>
<text x="160.24" y="775.50" font-size="10.5" fill="#141414" textLength="20.32" lengthAdjust="spacingAndGlyphs">247</text>
<text x="241.42" y="775.50" font-size="10.5" fill="#141414" textLength="20.32" lengthAdjust="spacingAndGlyphs">190</text>
<text x="322.88" y="775.50" font-size="10.5" fill="#141414" textLength="20.32" lengthAdjust="spacingAndGlyphs">151</text>
<text x="404.29" y="775.50" font-size="10.5" fill="#141414" textLength="20.32" lengthAdjust="spacingAndGlyphs">132</text>
<text x="485.65" y="775.50" font-size="10.5" fill="#141414" textLength="20.32" lengthAdjust="spacingAndGlyphs">106</text>
<text x="78.89" y="792.80" font-size="10.5" fill="#141414" textLength="20.32" lengthAdjust="spacingAndGlyphs">571</text>
<text x="160.76" y="792.80" font-size="10.5" fill="#141414" textLength="19.42" lengthAdjust="spacingAndGlyphs">311</text>
<text x="241.61" y="792.80" font-size="10.5" fill="#141414" textLength="20.32" lengthAdjust="spacingAndGlyphs">239</text>
<text x="322.76" y="792.80" font-size="10.5" fill="#141414" textLength="20.32" lengthAdjust="spacingAndGlyphs">194</text>
<text x="404.25" y="792.80" font-size="10.5" fill="#141414" textLength="20.32" lengthAdjust="spacingAndGlyphs">173</text>
<text x="485.56" y="792.80" font-size="10.5" fill="#141414" textLength="20.32" lengthAdjust="spacingAndGlyphs">134</text>
<text x="11.71" y="840.40" font-size="21" font-weight="bold" fill="#141414" stroke="#141414" stroke-width="0.5" paint-order="stroke" textLength="14.33" lengthAdjust="spacingAndGlyphs">C</text>
<path d="M78,838.1H507.6V1072.4H78Z" fill="none" stroke="#141414" stroke-width="1.6"/>
<text x="60.68" y="1072.30" font-size="10.3" fill="#141414" textLength="6.47" lengthAdjust="spacingAndGlyphs">0</text>
<text x="54.22" y="1049.52" font-size="10.3" fill="#141414" textLength="12.95" lengthAdjust="spacingAndGlyphs">10</text>
<text x="54.22" y="1026.74" font-size="10.3" fill="#141414" textLength="12.95" lengthAdjust="spacingAndGlyphs">20</text>
<text x="54.22" y="1003.96" font-size="10.3" fill="#141414" textLength="12.95" lengthAdjust="spacingAndGlyphs">30</text>
<text x="54.22" y="981.18" font-size="10.3" fill="#141414" textLength="12.95" lengthAdjust="spacingAndGlyphs">40</text>
<text x="54.22" y="958.40" font-size="10.3" fill="#141414" textLength="12.95" lengthAdjust="spacingAndGlyphs">50</text>
<text x="54.22" y="935.62" font-size="10.3" fill="#141414" textLength="12.95" lengthAdjust="spacingAndGlyphs">60</text>
<text x="54.22" y="912.84" font-size="10.3" fill="#141414" textLength="12.95" lengthAdjust="spacingAndGlyphs">70</text>
<text x="54.22" y="890.06" font-size="10.3" fill="#141414" textLength="12.95" lengthAdjust="spacingAndGlyphs">80</text>
<text x="54.22" y="867.28" font-size="10.3" fill="#141414" textLength="12.95" lengthAdjust="spacingAndGlyphs">90</text>
<text x="47.73" y="844.50" font-size="10.3" fill="#141414" textLength="19.42" lengthAdjust="spacingAndGlyphs">100</text>
<path d="M72.50,1068.70H78M72.50,1045.92H78M72.50,1023.14H78M72.50,1000.36H78M72.50,977.58H78M72.50,954.80H78M72.50,932.02H78M72.50,909.24H78M72.50,886.46H78M72.50,863.68H78M72.50,840.90H78" stroke="#141414" stroke-width="1.3"/>
<text x="85.66" y="1092.60" font-size="10.3" fill="#141414" textLength="6.47" lengthAdjust="spacingAndGlyphs">0</text>
<text x="166.91" y="1092.60" font-size="10.3" fill="#141414" textLength="6.47" lengthAdjust="spacingAndGlyphs">1</text>
<text x="248.47" y="1092.60" font-size="10.3" fill="#141414" textLength="6.47" lengthAdjust="spacingAndGlyphs">2</text>
<text x="329.90" y="1092.60" font-size="10.3" fill="#141414" textLength="6.47" lengthAdjust="spacingAndGlyphs">3</text>
<text x="411.30" y="1092.60" font-size="10.3" fill="#141414" textLength="6.47" lengthAdjust="spacingAndGlyphs">4</text>
<text x="492.67" y="1092.60" font-size="10.3" fill="#141414" textLength="6.47" lengthAdjust="spacingAndGlyphs">5</text>
<path d="M88.90,1072.4V1077.70M170.30,1072.4V1077.70M251.70,1072.4V1077.70M333.10,1072.4V1077.70M414.50,1072.4V1077.70M495.90,1072.4V1077.70" stroke="#141414" stroke-width="1.3"/>
<text transform="translate(38.30,971.67) rotate(-90)" x="0" y="0" font-size="13.5" fill="#141414" stroke="#141414" stroke-width="0.4" paint-order="stroke" textLength="32.26" lengthAdjust="spacingAndGlyphs">OS (%)</text>
<text x="265.88" y="1113.00" font-size="14" fill="#141414" stroke="#141414" stroke-width="0.4" paint-order="stroke" textLength="53.49" lengthAdjust="spacingAndGlyphs">Time (years)</text>
<path d="M90.60,841.80H91.90V843.41H92.01V843.55H94.98V847.23H95.20V847.50H96.29V849.12H97.18V850.45H98.70V852.70H99.91V853.74H100.12V853.91H102.10V855.60H103.81V857.27H106.16V859.58H106.78V860.18H106.80V860.20H107.71V861.01H107.74V861.04H110.15V863.18H111.40V864.30H111.43V864.33H113.35V866.25H115.55V868.45H116.00V868.90H117.87V870.52H119.77V872.18H120.06V872.43H120.60V872.90H120.67V872.95H121.35V873.47H122.72V874.51H125.20V876.40H127.74V878.94H128.15V879.35H129.39V880.59H129.80V881.00H130.21V881.41H131.51V882.71H132.66V883.86H134.40V885.60H135.09V886.27H135.73V886.90H136.77V887.92H139.10V890.20H139.60V890.52H141.50V891.71H143.36V892.88H143.70V893.10H145.07V894.33H146.50V895.60H147.23V896.32H147.64V896.72H151.17V900.19H152.11V901.11H152.30V901.30H152.61V901.45H155.10V902.70H157.77V904.03H157.96V904.13H158.10V904.20H160.31V905.32H161.64V906.00H163.25V906.82H163.38V906.89H163.80V907.10H164.73V907.73H165.09V907.97H168.36V910.16H168.58V910.32H169.60V911.00H170.66V911.35H171.95V911.77H174.41V912.58H174.51V912.61H175.40V912.90L180.00,912.70H181.13V912.98H182.01V913.20H182.27V913.27H183.53V913.58H183.68V913.62H184.76V913.89H186.67V914.37H188.26V914.76H189.20V915.00H189.47V915.11H189.49V915.12H190.02V915.35H193.14V916.69H194.50V917.27H195.07V917.51H196.20V918.00H199.72V919.19H201.03V919.64H201.10V919.66H201.24V919.71H201.34V919.74H202.53V920.15H202.90V920.27H203.09V920.34H203.41V920.45H203.78V920.57H207.70V921.90H208.02V921.99H209.18V922.32H209.47V922.40H210.18V922.60H210.95V922.82H213.64V923.58H214.02V923.69H214.23V923.75H214.46V923.81H216.24V924.31H218.24V924.88H218.46V924.94H221.50V925.80H221.88V925.88H222.26V925.96H222.35V925.97H225.61V926.64H226.24V926.77H227.42V927.01H228.32V927.19H228.73V927.28H230.80V927.70H231.55V927.76H232.68V927.85H233.47V927.91H236.01V928.12H237.75V928.25H237.86V928.26H240.90V928.51H242.05V928.60H242.63V928.64H243.92V928.75H244.35V928.78H244.55V928.80H244.60V928.80H245.36V928.88H246.44V928.99H246.52V929.00H248.67V929.22H250.31V929.39H253.37V929.71H253.75V929.75H255.23V929.90H255.39V929.92H255.70V929.95H256.20V930.00H257.52V930.17H258.12V930.25H258.62V930.32H258.73V930.33H260.82V930.60H263.70V930.98H264.45V931.08H264.66V931.10H265.40V931.20H265.57V931.28H266.87V931.93H267.73V932.36H270.00V933.50H271.06V933.68H271.48V933.76H271.55V933.77H271.68V933.79H276.25V934.59H277.22V934.76H278.24V934.93H278.61V935.00H279.20V935.10H280.41V935.25H283.37V935.60H285.36V935.84H285.64V935.88H285.93V935.91H286.51V935.98H286.58V935.99H289.33V936.32H289.44V936.34H290.72V936.49H290.80V936.50H293.24V937.03H294.11V937.22H294.43V937.29H294.87V937.38H296.11V937.65H297.83V938.03H298.14V938.10H299.91V938.48H300.00V938.50L313.50,938.80H314.17V939.01H316.33V939.69H317.30V940.00H317.32V940.00H317.69V940.03H317.86V940.04H320.22V940.20H320.90V940.25H324.04V940.47H324.65V940.51H324.93V940.53H326.73V940.66H328.62V940.79H328.80V940.80H329.82V940.95H329.95V940.96H332.13V941.28H332.75V941.36H333.54V941.48H335.70V941.79H336.50V941.90H336.53V941.90H336.76V941.92H337.73V941.99H339.10V942.08H339.14V942.08H340.62V942.18H340.64V942.19H343.27V942.37H343.33V942.37H344.08V942.42H348.10V942.70H349.00V943.80L400.00,943.80H400.86V944.07H401.99V944.42H402.62V944.61H404.20V945.10H404.40V945.11H405.83V945.16H406.49V945.18H406.74V945.19H408.34V945.25H408.69V945.26H410.16V945.31H411.03V945.34H411.74V945.37H413.76V945.44H415.05V945.48H415.16V945.49H415.18V945.49H417.50V945.57H419.01V945.62H420.12V945.66H421.20V945.70H421.43V945.72H422.04V945.77H422.31V945.79H423.90V945.91H424.99V946.00H425.72V946.06H425.92V946.07H428.91V946.31H430.83V946.46H431.30V946.50H431.67V946.53H432.75V946.61H433.39V946.66H435.14V946.80H436.00V946.87H438.37V947.06H439.01V947.11H439.08V947.11H440.20V947.20H440.31V947.21H441.02V947.27H443.15V947.46H444.02V947.54H445.27V947.65H445.43V947.66H447.85V947.88H448.06V947.90H452.29V948.27H452.74V948.31H452.79V948.32H453.43V948.37H453.95V948.42H454.47V948.47H455.23V948.53H457.10V948.70H457.35V948.77H457.77V948.88H458.59V949.09H459.25V949.27H461.90V949.97H463.50V950.40L497.30,950.80" fill="none" stroke="#ba1033" stroke-width="1.8" stroke-linejoin="round" stroke-linecap="butt"/>
<path d="M105.08,856.41V860.61M113.05,863.85V868.05M116.89,867.57V871.77M122.80,872.47V876.67M145.53,892.63V896.83M145.88,892.95V897.15M153.70,899.90V904.10M157.11,901.60V905.80M166.53,906.83V911.03M168.51,908.17V912.37M168.85,908.40V912.60M172.38,909.81V914.01M177.17,910.72V914.92M179.28,910.63V914.83M186.20,912.15V916.35M196.90,916.14V920.34M204.60,918.75V922.95M223.10,924.03V928.23M226.20,924.66V928.86M230.80,925.60V929.80M241.50,926.45V930.65M246.20,926.87V931.07M253.80,927.65V931.85M258.50,928.20V932.40M266.20,929.50V933.70M269.20,931.00V935.20M272.30,931.80V936.00M287.70,934.03V938.23M292.30,934.73V938.93M301.50,936.43V940.63M306.20,936.54V940.74M315.40,937.30V941.50M321.50,938.19V942.39M326.20,938.52V942.72M333.30,939.34V943.54M339.80,940.03V944.23M344.70,940.37V944.57M370.80,941.70V945.90M395.40,941.70V945.90M405.20,943.04V947.24M408.40,943.15V947.35M413.30,943.32V947.52M416.60,943.44V947.64M419.90,943.55V947.75M428.00,944.14V948.34M431.30,944.40V948.60M434.60,944.66V948.86M439.50,945.04V949.24M444.40,945.47V949.67M450.90,946.05V950.25M467.30,948.34V952.54M473.80,948.42V952.62M478.70,948.48V952.68M483.60,948.54V952.74M486.90,948.58V952.78M490.10,948.61V952.81M493.40,948.65V952.85M496.70,948.69V952.89" stroke="#9c0c2a" stroke-width="1.2" fill="none"/>
<path d="M90.60,841.80H93.03V845.76H93.56V846.62H94.10V847.50H95.00V849.65H96.52V853.26H97.50V855.60H99.03V857.13H99.44V857.54H101.00V859.10H102.22V860.93H103.41V862.71H104.63V864.54H105.60V866.00H107.85V870.43H108.98V872.66H109.10V872.90H109.84V874.16H112.09V878.00H112.50V878.70H112.55V878.79H113.41V880.18H116.00V884.40H116.80V885.77H118.53V888.71H119.40V890.20H121.67V895.68H121.80V896.00L126.40,896.00H127.51V896.95H128.94V898.16H129.80V898.90H130.90V899.45H131.31V899.66H133.85V900.92H134.40V901.20H136.49V906.92H136.70V907.50H139.66V907.88H139.83V907.90H139.96V907.92H141.40V908.10H143.56V909.18H145.26V910.03H145.90V910.35H146.00V910.40H148.75V911.89H149.59V912.34H150.39V912.77H150.57V912.86H151.40V913.32H152.30V913.80H152.75V914.25H153.53V915.03H154.08V915.58H155.91V917.41H158.10V919.60H158.65V920.02H161.56V922.24H161.90V922.50H162.16V922.55H162.18V922.55H162.30V922.58H162.92V922.70H163.26V922.77H165.21V923.16H168.55V923.82H170.82V924.27H171.50V924.40H174.54V925.03H174.85V925.10H175.04V925.14H176.30V925.40H176.49V925.84H179.20V932.10H180.00V933.90L191.50,933.90H192.70V935.80H193.39V935.87H196.48V936.20H198.84V936.45H201.20V936.70H201.22V936.70H201.73V936.75H201.97V936.78H202.21V936.81H202.52V936.84H203.10V936.90H203.30V936.94H203.71V937.03H203.74V937.03H204.27V937.15H208.80V938.10H210.00V940.80L241.20,940.80H243.15V942.66H243.50V943.00L300.00,943.00L326.90,942.90H327.90V945.80L400.00,945.80H400.80V948.70L486.70,949.10L486.70,952.60L497.30,952.60" fill="none" stroke="#184577" stroke-width="1.8" stroke-linejoin="round" stroke-linecap="butt"/>
<path d="M107.08,866.82V871.02M112.06,875.85V880.05M123.51,893.90V898.10M132.84,898.32V902.52M161.50,920.10V924.30M164.05,920.83V925.03M168.32,921.67V925.87M179.18,929.96V934.16M193.80,933.82V938.02M209.20,936.90V941.10M216.90,938.70V942.90M226.20,938.70V942.90M235.40,938.70V942.90M255.40,940.90V945.10M258.50,940.90V945.10M276.90,940.90V945.10M295.40,940.90V945.10M298.50,940.90V945.10M324.60,940.81V945.01M332.30,943.70V947.90M339.80,943.70V947.90M370.80,943.70V947.90M400.30,944.79V948.99M428.00,946.73V950.93M444.40,946.80V951.00M464.00,946.89V951.09M473.80,946.94V951.14M483.60,946.99V951.19M493.40,950.50V954.70" stroke="#123866" stroke-width="1.2" fill="none"/>
<path d="M90.60,841.80H93.52V846.18H94.34V847.40H94.40V847.49H95.20V848.70H95.66V849.39H96.52V850.68H98.11V853.06H99.80V855.60H100.26V856.28H100.76V857.01H103.36V860.83H104.50V862.50H104.60V862.69H105.97V865.47H106.45V866.44H109.10V871.80H110.28V874.44H110.40V874.71H112.39V879.17H113.70V882.10H114.79V884.35H114.95V884.68H117.10V889.10H118.86V893.13H120.47V896.81H120.60V897.10H120.74V897.21H123.44V899.26H124.52V900.08H125.20V900.60H127.10V902.50H127.21V902.61H128.76V904.16H129.80V905.20H131.40V906.80H132.27V907.67H133.04V908.44H134.40V909.80H134.83V910.22H135.42V910.80H138.45V913.77H139.10V914.40H139.11V914.41H140.28V915.18H140.49V915.33H144.36V917.91H144.76V918.17H146.00V919.00H146.02V919.01H148.16V920.23H150.30V921.44H150.40V921.50H151.82V922.22H153.07V922.85H154.18V923.42H154.21V923.43H156.54V924.61H156.81V924.74H158.10V925.40H159.75V926.22H160.11V926.39H160.28V926.48H161.94V927.29H163.49V928.06H165.37V928.99H165.80V929.20H166.42V929.52H166.65V929.63H170.70V931.68H171.17V931.92H171.86V932.27H171.87V932.27H173.50V933.10H175.81V934.06H176.06V934.17H176.11V934.18H177.58V934.80H179.29V935.50H180.00V935.80H180.23V935.86H180.79V936.00H181.90V936.27H182.42V936.41H183.49V936.67H184.61V936.95H188.17V937.84H188.29V937.87H189.20V938.10H191.37V938.89H192.44V939.28H193.49V939.67H194.14V939.91H195.21V940.30H196.20V940.66H196.22V940.67H197.42V941.11H198.50V941.50H199.93V941.69H200.06V941.70H201.51V941.89H202.54V942.03H204.59V942.29H205.33V942.39H205.62V942.43H206.26V942.51H207.70V942.70H209.44V942.84H209.83V942.87H209.85V942.87H210.34V942.91H210.98V942.96H211.12V942.97H211.86V943.03H214.08V943.21H215.69V943.34H217.40V943.47H219.34V943.63H219.91V943.67H221.50V943.80H222.68V943.92H222.68V943.92H223.37V943.99H223.70V944.03H225.29V944.19H225.31V944.19H227.56V944.43H229.95V944.67H232.66V944.95H232.81V944.97H233.10V945.00H234.08V945.13H234.90V945.24H236.63V945.46H237.10V945.52H238.97V945.77H239.85V945.88H240.41V945.95H242.15V946.18H242.30V946.20H242.53V946.25H243.72V946.53H244.98V946.82H245.05V946.84H247.76V947.47H249.20V947.80H250.85V948.06H253.89V948.53H254.19V948.57H254.57V948.63H255.01V948.70H256.20V948.89H256.54V948.94H257.24V949.05H257.79V949.13H259.73V949.43H260.80V949.60H263.43V949.97H265.64V950.27H267.40V950.52H268.62V950.69H268.85V950.72H269.11V950.76H269.41V950.80H269.70V950.84H270.60V950.96H270.92V951.01H272.30V951.20H273.43V951.34H275.18V951.55H275.90V951.64H277.13V951.79H277.52V951.84H279.53V952.08H279.54V952.08H279.68V952.10H280.50V952.20H281.30V952.30H283.80V952.60H286.34V953.09H286.43V953.11H286.62V953.15H287.65V953.35H287.99V953.41H290.00V953.80H290.38V953.88H291.83V954.17H293.89V954.58H294.90V954.78H295.43V954.89H296.54V955.11H297.78V955.36H299.30V955.66H299.75V955.75H300.00V955.80H300.78V955.95H301.24V956.04H304.00V956.58H304.42V956.66H306.02V956.97H307.24V957.21H307.70V957.30H310.67V958.02H310.84V958.06H311.41V958.19H311.86V958.30H313.50V958.70H315.84V959.07H316.47V959.17H318.23V959.45H318.90V959.55H319.20V959.60L336.50,960.00H336.92V960.32H338.50V961.50H339.20V961.70H340.74V962.13H342.40V962.59H342.85V962.72H344.20V963.10L400.00,963.10H400.16V963.10H400.79V963.11H403.35V963.16H403.38V963.16H407.41V963.23H407.65V963.23H411.00V963.29H412.55V963.31H412.96V963.32H413.29V963.32H413.38V963.33H414.50V963.34H415.01V963.35H415.70V963.37H415.83V963.37H416.24V963.37H416.65V963.38H417.43V963.39H417.87V963.40H420.85V963.45H420.91V963.45H421.00V963.45H421.04V963.46H421.46V963.46H422.27V963.48H423.20V963.49H423.66V963.50H424.78V963.52H424.90V963.52H425.23V963.53H425.37V963.53H427.71V963.57H427.77V963.57H428.39V963.58H431.20V963.63H432.46V963.65H433.27V963.66H437.55V963.73H437.73V963.74H437.82V963.74H439.03V963.76H441.34V963.80H442.73V963.82H443.90V963.84H445.98V963.88H447.45V963.90H447.93V963.91H448.32V963.92H448.47V963.92H449.01V963.93H449.36V963.93H450.36V963.95H450.58V963.95H453.62V964.01H454.98V964.03H455.64V964.04H457.06V964.06H458.28V964.08H459.20V964.10H459.80V964.25H462.57V964.96H462.77V965.01H463.50V965.20H463.62V965.21H463.66V965.22H464.57V965.31H465.00V965.36H465.95V965.46H466.13V965.48H470.15V965.90H470.39V965.92H473.49V966.25H474.00V966.30H477.56V966.62H477.91V966.65H478.60V966.71H479.46V966.79H480.16V966.86H482.07V967.03H484.22V967.22H486.37V967.41H486.93V967.47H488.17V967.58H489.58V967.70H490.14V967.75H491.29V967.86H492.09V967.93H492.20V967.94H492.36V967.95H492.45V967.96H493.54V968.06H494.57V968.15H494.76V968.17H494.83V968.18H495.07V968.20H497.30V968.40" fill="none" stroke="#35a043" stroke-width="1.8" stroke-linejoin="round" stroke-linecap="butt"/>
<path d="M103.54,858.98V863.18M103.60,859.07V863.27M126.48,899.78V903.98M140.43,913.19V917.39M149.16,918.70V922.90M157.48,922.98V927.18M169.82,929.14V933.34M170.47,929.47V933.67M178.45,933.06V937.26M179.88,933.65V937.85M187.70,935.62V939.83M192.30,937.13V941.33M198.50,939.40V943.60M210.80,940.85V945.05M226.20,942.19V946.39M235.40,943.20V947.40M255.40,946.66V950.86M260.00,947.38V951.58M272.30,949.10V953.30M281.50,950.22V954.42M287.70,951.25V955.45M300.00,953.70V957.90M309.20,955.56V959.76M318.50,957.39V961.59M324.60,957.62V961.82M332.30,957.80V962.00M339.80,959.76V963.96M352.90,961.00V965.20M372.50,961.00V965.20M388.80,961.00V965.20M401.90,961.03V965.23M421.50,961.36V965.56M428.00,961.47V965.67M441.10,961.69V965.89M447.60,961.80V966.00M454.20,961.92V966.12M459.10,962.00V966.20M464.00,963.15V967.35M467.30,963.50V967.70M470.50,963.83V968.03M475.40,964.33V968.53M480.30,964.77V968.97M486.90,965.36V969.56M493.40,965.95V970.15M496.70,966.25V970.45" stroke="#2a8a36" stroke-width="1.2" fill="none"/>
<path d="M90.60,841.80H90.87V842.13H91.24V842.59H92.87V844.61H95.20V847.50H95.86V848.67H97.35V851.28H97.46V851.48H99.80V855.60H102.14V859.64H102.34V859.97H103.86V862.59H104.50V863.70H104.52V863.76H107.36V871.44H107.90V872.90H109.54V877.21H109.87V878.08H111.40V882.10H113.66V889.82H114.26V891.85H114.80V893.70H116.52V897.15H116.73V897.55H119.22V902.54H119.40V902.90H119.66V903.42H121.63V907.30H122.90V909.80H123.00V909.97H125.13V913.49H126.40V915.60H129.20V918.40H129.54V918.74H130.68V919.88H131.00V920.20H132.52V921.36H133.35V921.99H135.52V923.64H135.60V923.70H135.76V923.78H137.83V924.81H139.73V925.76H140.20V926.00H142.16V926.78H143.83V927.44H144.37V927.65H145.20V927.98H146.00V928.30H147.61V930.06H148.09V930.58H148.31V930.82H150.40V933.10H152.02V933.50H153.65V933.90H153.75V933.93H154.67V934.15H156.33V934.56H156.77V934.67H158.10V935.00H159.77V936.41H160.40V936.94H160.97V937.42H162.82V938.97H163.80V939.80H165.38V940.32H166.74V940.76H167.60V941.04H169.45V941.65H169.60V941.70H171.90V943.73H172.04V943.86H172.15V943.95H174.12V945.69H174.49V946.02H175.70V947.09H177.30V948.50H179.42V949.36H180.00V949.60H180.06V949.61H180.37V949.69H180.46V949.71H181.75V950.04H182.76V950.29H185.02V950.85H186.65V951.26H188.15V951.64H189.20V951.90H194.86V954.03H194.89V954.04H194.94V954.06H195.03V954.09H195.32V954.20H196.54V954.66H197.66V955.08H197.77V955.13H198.50V955.40H199.43V955.68H200.46V956.00H202.71V956.68H203.99V957.07H204.64V957.27H204.77V957.31H204.91V957.35H205.52V957.54H207.70V958.20H208.13V958.29H209.78V958.62H210.67V958.79H211.94V959.05H214.16V959.49H215.24V959.71H216.61V959.98H216.75V960.01H217.16V960.09H218.21V960.30H219.20V960.50H219.66V960.62H219.83V960.66H220.58V960.86H222.70V961.41H222.89V961.46H224.09V961.77H224.20V961.79H225.78V962.20H226.64V962.43H230.03V963.30H230.80V963.50H230.93V963.53H234.36V964.39H234.91V964.53H236.09V964.82H236.25V964.86H238.26V965.36H239.25V965.61H239.43V965.66H240.00V965.80H240.14V965.82H240.94V965.91H241.40V965.97H241.95V966.03H243.79V966.25H244.37V966.32H245.93V966.51H249.02V966.88H249.20V966.90H249.40V966.91H249.67V966.92H249.80V966.92H249.93V966.93H251.25V966.98H251.64V967.00H252.45V967.03H252.64V967.03H252.80V967.04H254.16V967.09H254.46V967.11H255.97V967.17H256.85V967.20H259.08V967.29H259.57V967.31H261.89V967.40H264.20V967.49H267.10V967.60H267.99V967.64H269.04V967.68H272.66V967.82H274.85V967.91H275.75V967.94H277.10V967.99H278.14V968.03H278.31V968.04H278.46V968.05H278.55V968.05H278.96V968.07H278.97V968.07H279.13V968.07H280.78V968.14H282.55V968.21H284.10V968.27H284.33V968.28H284.68V968.29H287.24V968.39H288.54V968.44H288.63V968.45H290.00V968.50H291.45V968.66H293.63V968.90H293.86V968.92H294.18V968.96H296.30V969.19H296.45V969.21H296.77V969.24H297.86V969.36H297.97V969.38H300.00V969.60H301.90V972.10H302.48V972.18H304.71V972.51H307.34V972.89H308.65V973.08H309.43V973.20H309.84V973.26H310.97V973.42H311.25V973.46H311.50V973.50H313.88V973.84H314.06V973.87H316.13V974.16H316.16V974.17H317.90V974.41H319.03V974.58H319.20V974.60H319.24V974.60H320.26V974.63H325.78V974.81H326.05V974.82H326.28V974.83H328.62V974.90H329.76V974.94H329.91V974.94H333.50V975.06H333.87V975.07H334.24V975.08H336.32V975.15H336.32V975.15H339.38V975.25H339.39V975.25H339.49V975.25H339.60V975.25H340.03V975.27H340.48V975.28H340.88V975.29H341.39V975.31H341.40V975.31H341.60V975.32H342.04V975.33H344.20V975.40H345.51V975.45H347.29V975.52H347.38V975.52H347.80V975.54H348.12V975.55H349.54V975.61H351.37V975.68H352.73V975.73H353.55V975.76H354.64V975.81H355.75V975.85H355.77V975.85H356.48V975.88H358.55V975.96H359.60V976.00L400.00,976.30H401.48V976.41H403.05V976.52H403.20V976.53H403.25V976.53H403.94V976.58H407.77V976.85H408.05V976.87H408.82V976.93H409.80V977.00H409.96V977.01H413.05V977.23H413.38V977.25H413.63V977.27H414.96V977.36H415.16V977.38H416.90V977.50H417.42V977.54H417.75V977.57H418.03V977.59H419.60V977.72H420.68V977.81H420.87V977.83H423.54V978.05H425.66V978.22H426.12V978.26H426.40V978.29H427.12V978.35H429.25V978.52H430.04V978.59H430.09V978.59H431.24V978.69H431.31V978.69H432.07V978.75H432.97V978.83H434.71V978.97H436.69V979.14H436.90V979.15H438.90V979.32H442.06V979.58H442.23V979.59H442.30V979.60H442.62V979.66H444.46V979.98H445.92V980.24H448.82V980.75H449.26V980.83H450.35V981.02H450.49V981.05H450.80V981.10H451.45V981.13H451.62V981.14H451.86V981.15H453.10V981.21H453.35V981.22H456.62V981.37H457.88V981.43H458.40V981.46H461.86V981.62H462.36V981.65H462.83V981.67H463.50V981.70H464.81V981.73H465.09V981.74H465.38V981.74H467.55V981.80H468.39V981.82H468.90V981.83H470.99V981.88H472.15V981.90H472.19V981.91H473.60V981.94H475.40V981.98H476.79V982.01H476.93V982.02H478.65V982.06H482.58V982.15H483.49V982.17H485.15V982.21H485.36V982.22H486.14V982.24H486.38V982.24H487.48V982.27H489.02V982.30H490.08V982.33H491.80V982.37H494.01V982.42H494.07V982.42H495.25V982.45H495.83V982.47H495.92V982.47H496.14V982.47H496.81V982.49H497.02V982.49H497.30V982.50" fill="none" stroke="#f3b71b" stroke-width="1.8" stroke-linejoin="round" stroke-linecap="butt"/>
<path d="M102.51,858.17V862.37M103.39,859.70V863.90M106.16,866.09V870.29M112.50,883.74V887.94M115.79,893.58V897.78M124.77,910.80V915.00M132.63,919.34V923.54M147.98,928.36V932.56M148.84,929.30V933.50M169.42,939.54V943.74M189.20,949.80V954.00M198.50,953.30V957.50M210.80,956.72V960.92M226.20,960.21V964.41M241.50,963.88V968.08M256.90,965.10V969.30M272.30,965.71V969.91M284.60,966.19V970.39M300.00,967.50V971.70M312.30,971.51V975.71M324.60,972.67V976.87M343.10,973.26V977.46M356.10,973.76V977.96M365.90,973.95V978.15M379.00,974.04V978.24M395.40,974.17V978.37M418.20,975.51V979.71M428.00,976.32V980.52M441.10,977.40V981.60M460.70,979.47V983.67M470.50,979.77V983.97M483.60,980.08V984.28M493.40,980.31V984.51" stroke="#e8a812" stroke-width="1.2" fill="none"/>
<text x="285.35" y="899.60" font-size="10.3" fill="#141414" textLength="149.87" lengthAdjust="spacingAndGlyphs">0-3 allele MM + TNC &gt; 3.9×10</text>
<text x="435.20" y="894.54" font-size="6.8" fill="#141414" textLength="4.40" lengthAdjust="spacingAndGlyphs">7</text>
<text x="441.10" y="899.60" font-size="10.3" fill="#141414" textLength="62.56" lengthAdjust="spacingAndGlyphs">/kg (n = 276)</text>
<text x="285.85" y="918.00" font-size="10.3" fill="#141414" textLength="150.37" lengthAdjust="spacingAndGlyphs">0-3 allele MM + TNC ≤ 3.9×10</text>
<text x="436.30" y="913.44" font-size="6.8" fill="#141414" textLength="4.40" lengthAdjust="spacingAndGlyphs">7</text>
<text x="441.80" y="918.00" font-size="10.3" fill="#141414" textLength="62.63" lengthAdjust="spacingAndGlyphs">/kg (n = 116)</text>
<text x="265.04" y="996.80" font-size="10.3" fill="#141414" textLength="148.78" lengthAdjust="spacingAndGlyphs">≥ 4 allele MM + TNC &gt; 4.9×10</text>
<text x="414.20" y="991.14" font-size="6.8" fill="#141414" textLength="4.40" lengthAdjust="spacingAndGlyphs">7</text>
<text x="419.80" y="996.80" font-size="10.3" fill="#141414" textLength="67.16" lengthAdjust="spacingAndGlyphs">/kg (n = 155)</text>
<text x="263.44" y="1013.40" font-size="10.3" fill="#141414" textLength="147.58" lengthAdjust="spacingAndGlyphs">≥ 4 allele MM + TNC ≤ 4.9×10</text>
<text x="411.00" y="1010.34" font-size="6.8" fill="#141414" textLength="4.40" lengthAdjust="spacingAndGlyphs">7</text>
<text x="416.70" y="1013.40" font-size="10.3" fill="#141414" textLength="63.98" lengthAdjust="spacingAndGlyphs">/kg (n = 282)</text>
<path d="M300.2,902.3 C285,905 272,912 267.2,924" fill="none" stroke="#141414" stroke-width="1.1"/>
<path d="M265.80,928.00L264.89,921.98L269.87,923.48Z" fill="#141414"/>
<path d="M299.4,920 C288,923 281,930 277.5,937.5" fill="none" stroke="#141414" stroke-width="1.1"/>
<path d="M276.00,941.40L275.36,935.35L280.27,937.07Z" fill="#141414"/>
<path d="M261,991.1 C250,984 243,972 246.2,954" fill="none" stroke="#24477a" stroke-width="1.1"/>
<path d="M246.90,950.10L248.94,955.83L243.77,955.31Z" fill="#24477a"/>
<path d="M260.4,1007.3 C247,1000 237,990 235.8,971.5" fill="none" stroke="#24477a" stroke-width="1.1"/>
<path d="M236.20,967.60L238.52,973.22L233.33,972.96Z" fill="#24477a"/>
<text x="458.48" y="1059.50" font-size="10.6" font-style="italic" fill="#141414" textLength="7.20" lengthAdjust="spacingAndGlyphs">P</text>
<text x="467.72" y="1059.50" font-size="10.6" fill="#141414" textLength="34.09" lengthAdjust="spacingAndGlyphs">= .002</text>
<text x="57.09" y="1136.90" font-size="10.2" fill="#141414" textLength="6.24" lengthAdjust="spacingAndGlyphs">0</text>
<text x="79.70" y="1136.90" font-size="10.2" fill="#141414" textLength="18.72" lengthAdjust="spacingAndGlyphs">276</text>
<text x="160.98" y="1136.90" font-size="10.2" fill="#141414" textLength="18.72" lengthAdjust="spacingAndGlyphs">179</text>
<text x="242.36" y="1136.90" font-size="10.2" fill="#141414" textLength="18.72" lengthAdjust="spacingAndGlyphs">138</text>
<text x="324.16" y="1136.90" font-size="10.2" fill="#141414" textLength="17.89" lengthAdjust="spacingAndGlyphs">110</text>
<text x="408.44" y="1136.90" font-size="10.2" fill="#141414" textLength="12.48" lengthAdjust="spacingAndGlyphs">96</text>
<text x="489.83" y="1136.90" font-size="10.2" fill="#141414" textLength="12.48" lengthAdjust="spacingAndGlyphs">76</text>
<text x="57.21" y="1154.60" font-size="10.2" fill="#141414" textLength="6.24" lengthAdjust="spacingAndGlyphs">1</text>
<text x="79.98" y="1154.60" font-size="10.2" fill="#141414" textLength="17.89" lengthAdjust="spacingAndGlyphs">116</text>
<text x="164.23" y="1154.60" font-size="10.2" fill="#141414" textLength="12.48" lengthAdjust="spacingAndGlyphs">68</text>
<text x="245.73" y="1154.60" font-size="10.2" fill="#141414" textLength="12.48" lengthAdjust="spacingAndGlyphs">52</text>
<text x="327.21" y="1154.60" font-size="10.2" fill="#141414" textLength="12.48" lengthAdjust="spacingAndGlyphs">41</text>
<text x="408.50" y="1154.60" font-size="10.2" fill="#141414" textLength="12.48" lengthAdjust="spacingAndGlyphs">36</text>
<text x="489.87" y="1154.60" font-size="10.2" fill="#141414" textLength="12.48" lengthAdjust="spacingAndGlyphs">30</text>
<text x="57.23" y="1172.50" font-size="10.2" fill="#141414" textLength="6.24" lengthAdjust="spacingAndGlyphs">2</text>
<text x="79.72" y="1172.50" font-size="10.2" fill="#141414" textLength="18.72" lengthAdjust="spacingAndGlyphs">289</text>
<text x="160.96" y="1172.50" font-size="10.2" fill="#141414" textLength="18.72" lengthAdjust="spacingAndGlyphs">163</text>
<text x="242.39" y="1172.50" font-size="10.2" fill="#141414" textLength="18.72" lengthAdjust="spacingAndGlyphs">131</text>
<text x="323.68" y="1172.50" font-size="10.2" fill="#141414" textLength="18.72" lengthAdjust="spacingAndGlyphs">104</text>
<text x="408.47" y="1172.50" font-size="10.2" fill="#141414" textLength="12.48" lengthAdjust="spacingAndGlyphs">91</text>
<text x="489.86" y="1172.50" font-size="10.2" fill="#141414" textLength="12.48" lengthAdjust="spacingAndGlyphs">71</text>
<text x="57.15" y="1190.40" font-size="10.2" fill="#141414" textLength="6.24" lengthAdjust="spacingAndGlyphs">3</text>
<text x="79.75" y="1190.40" font-size="10.2" fill="#141414" textLength="18.72" lengthAdjust="spacingAndGlyphs">282</text>
<text x="160.96" y="1190.40" font-size="10.2" fill="#141414" textLength="18.72" lengthAdjust="spacingAndGlyphs">148</text>
<text x="242.36" y="1190.40" font-size="10.2" fill="#141414" textLength="18.72" lengthAdjust="spacingAndGlyphs">108</text>
<text x="327.02" y="1190.40" font-size="10.2" fill="#141414" textLength="12.48" lengthAdjust="spacingAndGlyphs">90</text>
<text x="408.51" y="1190.40" font-size="10.2" fill="#141414" textLength="12.48" lengthAdjust="spacingAndGlyphs">82</text>
<text x="489.83" y="1190.40" font-size="10.2" fill="#141414" textLength="12.48" lengthAdjust="spacingAndGlyphs">63</text>
</svg></body></html>
